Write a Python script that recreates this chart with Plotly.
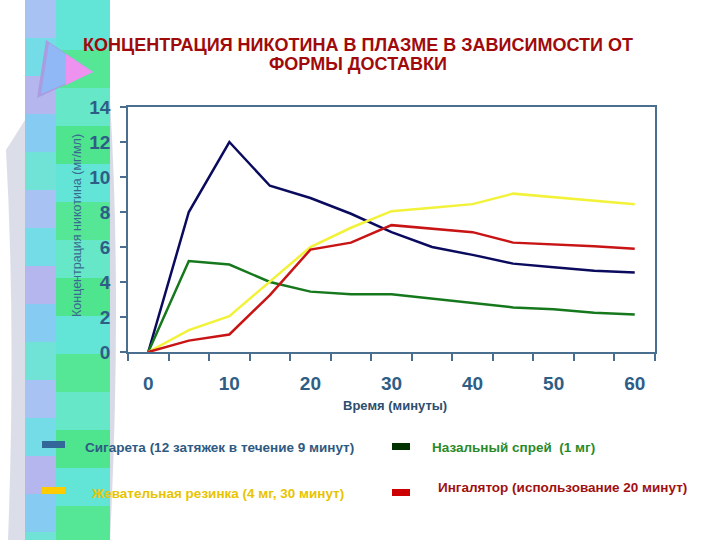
import plotly.graph_objects as go

# ---- data ----
minutes = [0, 5, 10, 15, 20, 25, 30, 35, 40, 45, 50, 55, 60]
cigarette = [0, 8.0, 12.0, 9.5, 8.8, 7.9, 6.85, 6.0, 5.55, 5.05, 4.85, 4.65, 4.55]
nasal_spray = [0, 5.2, 5.0, 4.0, 3.45, 3.3, 3.3, 3.05, 2.8, 2.55, 2.45, 2.25, 2.15]
chewing_gum = [0, 1.25, 2.05, 4.05, 6.0, 7.1, 8.05, 8.25, 8.45, 9.05, 8.85, 8.65, 8.45]
inhaler = [0, 0.65, 1.0, 3.25, 5.85, 6.25, 7.25, 7.05, 6.85, 6.25, 6.15, 6.05, 5.9]

series_names = [
    "Сигарета (12 затяжек в течение 9 минут)",
    "Назальный спрей  (1 мг)",
    "Жевательная резинка (4 мг, 30 минут)",
    "Ингалятор (использование 20 минут)",
]
x_tick_vals = [0, 10, 20, 30, 40, 50, 60]
y_tick_vals = [0, 2, 4, 6, 8, 10, 12, 14]
title_lines = ["КОНЦЕНТРАЦИЯ НИКОТИНА В ПЛАЗМЕ В ЗАВИСИМОСТИ ОТ", "ФОРМЫ ДОСТАВКИ"]
y_title = "Концентрация никотина (мг/мл)"
x_title = "Время (минуты)"

W, H = 720, 540
L, R, T, B = 128, 655, 107, 352
FONT = "Liberation Sans, Arial, sans-serif"


def px(x):
    return (x - L) / (R - L)


def py(y):
    return (B - y) / (B - T)


fig = go.Figure()
line_colors = ["#0A0A5E", "#16781C", "#F2F23A", "#C81414"]
for name, ys, col in zip(series_names,
                         [cigarette, nasal_spray, chewing_gum, inhaler],
                         line_colors):
    fig.add_trace(go.Scatter(x=minutes, y=ys, mode="lines", name=name,
                             line=dict(color=col, width=2.5),
                             showlegend=False))

shapes = []
# decorative left strip
shapes.append(dict(type="path", xref="paper", yref="paper",
                   path=f"M {px(6)},{py(150)} Q {px(16)},{py(330)} {px(8)},{py(540)} L {px(25)},{py(540)} L {px(25)},{py(120)} Z",
                   fillcolor="#D2D4E4", line=dict(width=0), layer="below", opacity=0.8))
band = 38
left_cols = ["#A9C2F4", "#74DCE6", "#B6B6EE", "#86CCF2", "#70E2D6"]
right_cols = ["#62E4D6", "#55E696", "#66E8C8", "#4FE48E"]
i = 0
y0 = 0
while y0 < H:
    shapes.append(dict(type="rect", xref="paper", yref="paper",
                       x0=px(25), x1=px(56), y0=py(y0), y1=py(min(y0 + band, H)),
                       fillcolor=left_cols[i % len(left_cols)], line=dict(width=0), layer="below"))
    shapes.append(dict(type="rect", xref="paper", yref="paper",
                       x0=px(56), x1=px(110), y0=py(y0 + 12), y1=py(min(y0 + 12 + band, H)),
                       fillcolor=right_cols[i % len(right_cols)], line=dict(width=0), layer="below"))
    i += 1
    y0 += band
shapes.append(dict(type="rect", xref="paper", yref="paper",
                   x0=px(56), x1=px(110), y0=py(0), y1=py(12),
                   fillcolor="#62E4D6", line=dict(width=0), layer="below"))
# light shading right of the strip
shapes.append(dict(type="path", xref="paper", yref="paper",
                   path=f"M {px(110)},{py(100)} Q {px(122)},{py(300)} {px(110)},{py(540)} Z",
                   fillcolor="#C8CADC", line=dict(width=0), layer="below", opacity=0.7))
# triangle
shapes.append(dict(type="path", xref="paper", yref="paper",
                   path=f"M {px(46)},{py(40)} L {px(93)},{py(72)} L {px(37)},{py(98)} Z",
                   fillcolor="#A99CE0", line=dict(width=0), layer="below"))
shapes.append(dict(type="path", xref="paper", yref="paper",
                   path=f"M {px(49)},{py(43)} L {px(93)},{py(72)} L {px(41)},{py(94)} Z",
                   fillcolor="#90B8F6", line=dict(width=0), layer="below"))
shapes.append(dict(type="path", xref="paper", yref="paper",
                   path=f"M {px(66)},{py(54)} L {px(93)},{py(72)} L {px(66)},{py(85)} Z",
                   fillcolor="#EE92F0", line=dict(width=0), layer="below"))

# legend swatches
sw = [(42, 65, 441, 448, "#336699"), (392, 410, 443, 450, "#003300"),
      (42, 65, 487, 494, "#FFCC00"), (392, 410, 489, 496, "#CC0000")]
for x0, x1, y0_, y1_, c in sw:
    shapes.append(dict(type="rect", xref="paper", yref="paper",
                       x0=px(x0), x1=px(x1), y0=py(y0_), y1=py(y1_),
                       fillcolor=c, line=dict(width=0)))

annotations = []
leg = [(83, 447, series_names[0], "#2E5A82"),
       (430, 447, series_names[1], "#2A8A2A"),
       (89, 493, series_names[2], "#E8C400"),
       (436, 487, series_names[3], "#A01010")]
for x, y, t, c in leg:
    annotations.append(dict(x=px(x), y=py(y), xref="paper", yref="paper", text=t,
                            showarrow=False, xanchor="left", yanchor="middle",
                            font=dict(family=FONT, size=13.5, color=c, weight="bold")))
annotations.append(dict(x=px(77), y=py(226), xref="paper", yref="paper", text=y_title,
                        showarrow=False, textangle=-90, xanchor="center", yanchor="middle",
                        font=dict(family=FONT, size=12.5, color="#3A6A92")))
annotations.append(dict(x=px(395), y=py(405), xref="paper", yref="paper", text=x_title,
                        showarrow=False, xanchor="center", yanchor="middle",
                        font=dict(family=FONT, size=13, color="#2E4E6E", weight="bold")))
for t, yy in zip(title_lines, [45, 64]):
    annotations.append(dict(x=px(358), y=py(yy), xref="paper", yref="paper", text=t,
                            showarrow=False, xanchor="center", yanchor="middle",
                            font=dict(family=FONT, size=18, color="#A00A0A", weight="bold")))

axis_col = "#4A6E8E"
tick_font = dict(family=FONT, size=19, color="#2E5E86", weight="bold")

fig.update_layout(
    width=W, height=H,
    margin=dict(l=L, r=W - R, t=T, b=H - B),
    paper_bgcolor="white", plot_bgcolor="white",
    xaxis=dict(range=[-2.5, 62.5], tickvals=x_tick_vals, ticks="", showgrid=False,
               zeroline=False, showline=True, linecolor=axis_col, linewidth=1.5,
               mirror=True, tickfont=tick_font, ticklabelstandoff=13,
               minor=dict(tick0=2.5, dtick=5, ticks="outside", ticklen=7,
                          tickcolor=axis_col, tickwidth=1.5, showgrid=False)),
    yaxis=dict(range=[0, 14], tickvals=y_tick_vals, ticks="outside", ticklen=6,
               tickcolor=axis_col, tickwidth=1.5, showgrid=False, zeroline=False,
               showline=True, linecolor=axis_col, linewidth=1.5, mirror=True,
               tickfont=tick_font, ticklabelstandoff=6),
    shapes=shapes, annotations=annotations, showlegend=False,
)

fig.write_html("out.html", config={"displayModeBar": False},
               post_script="document.body.style.margin='0';")
